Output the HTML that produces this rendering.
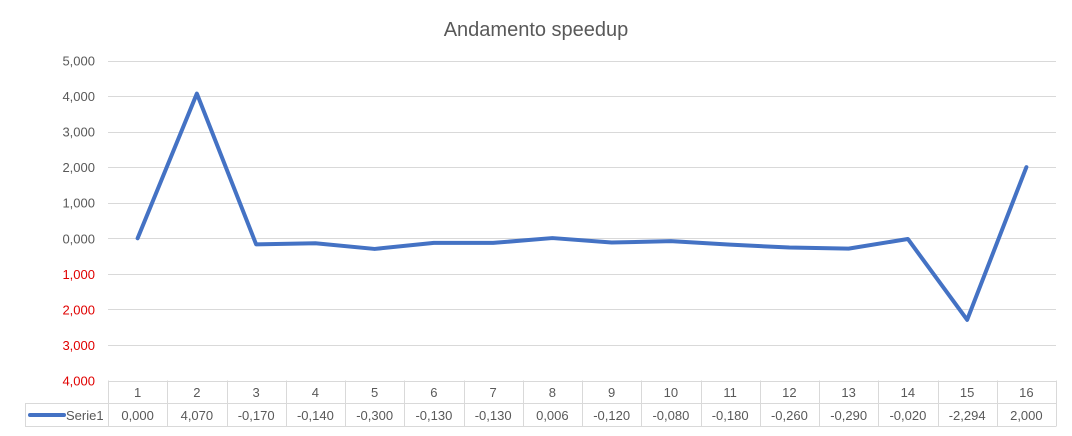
<!DOCTYPE html>
<html><head><meta charset="utf-8"><style>
body{margin:0;background:#fff;font-family:"Liberation Sans",sans-serif;}
svg text{font-family:"Liberation Sans",sans-serif;}
</style></head><body>
<svg id="c" width="1072" height="431" xmlns="http://www.w3.org/2000/svg">
<text x="536" y="36" text-anchor="middle" font-size="20" fill="#595959">Andamento speedup</text>
<g id="grid"></g><g id="table"></g><g id="plot"></g>
</svg>
<script>
const categories=["1","2","3","4","5","6","7","8","9","10","11","12","13","14","15","16"];
const values=[0,4.07,-0.17,-0.14,-0.3,-0.13,-0.13,0.006,-0.12,-0.08,-0.18,-0.26,-0.29,-0.02,-2.294,2];
const valueLabels=["0,000","4,070","-0,170","-0,140","-0,300","-0,130","-0,130","0,006","-0,120","-0,080","-0,180","-0,260","-0,290","-0,020","-2,294","2,000"];
const yTicks=[5,4,3,2,1,0,-1,-2,-3,-4];
const ns="http://www.w3.org/2000/svg";
const L=108,R=1056,T=60.5,B=380.5;
const y=v=>T+(5-v)*(B-T)/9;
const cw=(R-L)/categories.length;
const x=i=>L+cw*(i+0.5);
function mk(t,a,p,txt){const e=document.createElementNS(ns,t);for(const k in a)e.setAttribute(k,a[k]);if(txt!=null)e.textContent=txt;p.appendChild(e);return e;}
const g=document.getElementById('grid'),tb=document.getElementById('table'),pl=document.getElementById('plot');
yTicks.forEach(v=>{
 const ln=mk('line',{x1:L,x2:R,y1:Math.round(y(v))+0.5,y2:Math.round(y(v))+0.5,stroke:'#d9d9d9','stroke-width':1},g);
 
 
 const t=mk('text',{x:95,y:y(v)+5,'text-anchor':'end','font-size':13,fill:v<0?'#e00000':'#595959'},g,(Math.abs(v)).toFixed(3).replace('.',','));
 
 
});
const r1=380.5,r2=403.5,r3=426.5;
mk('line',{x1:25,x2:R,y1:r2,y2:r2,stroke:'#d9d9d9'},tb);
mk('line',{x1:25,x2:R,y1:r3,y2:r3,stroke:'#d9d9d9'},tb);
mk('line',{x1:25.5,x2:25.5,y1:r2,y2:r3,stroke:'#d9d9d9'},tb);
for(let i=0;i<=categories.length;i++){const xx=Math.round(L+cw*i)+0.5;mk('line',{x1:xx,x2:xx,y1:r1,y2:r3,stroke:'#d9d9d9'},tb);}
const lg=mk('line',{x1:30,x2:64,y1:415,y2:415,stroke:'#4472c4','stroke-width':4,'stroke-linecap':'round'},tb);


const lt=mk('text',{x:66,y:420,'font-size':13,fill:'#595959'},tb,'Serie1');


categories.forEach((c,i)=>{
 const a=mk('text',{x:x(i),y:397,'text-anchor':'middle','font-size':13,fill:'#595959'},tb,c);
 
 
 const b=mk('text',{x:x(i),y:420,'text-anchor':'middle','font-size':13,fill:'#595959'},tb,valueLabels[i]);
 
 
});
const p=mk('polyline',{points:values.map((v,i)=>x(i)+','+y(v)).join(' '),fill:'none',stroke:'#4472c4','stroke-width':4,'stroke-linejoin':'round','stroke-linecap':'round'},pl);


</script>
</body></html>
